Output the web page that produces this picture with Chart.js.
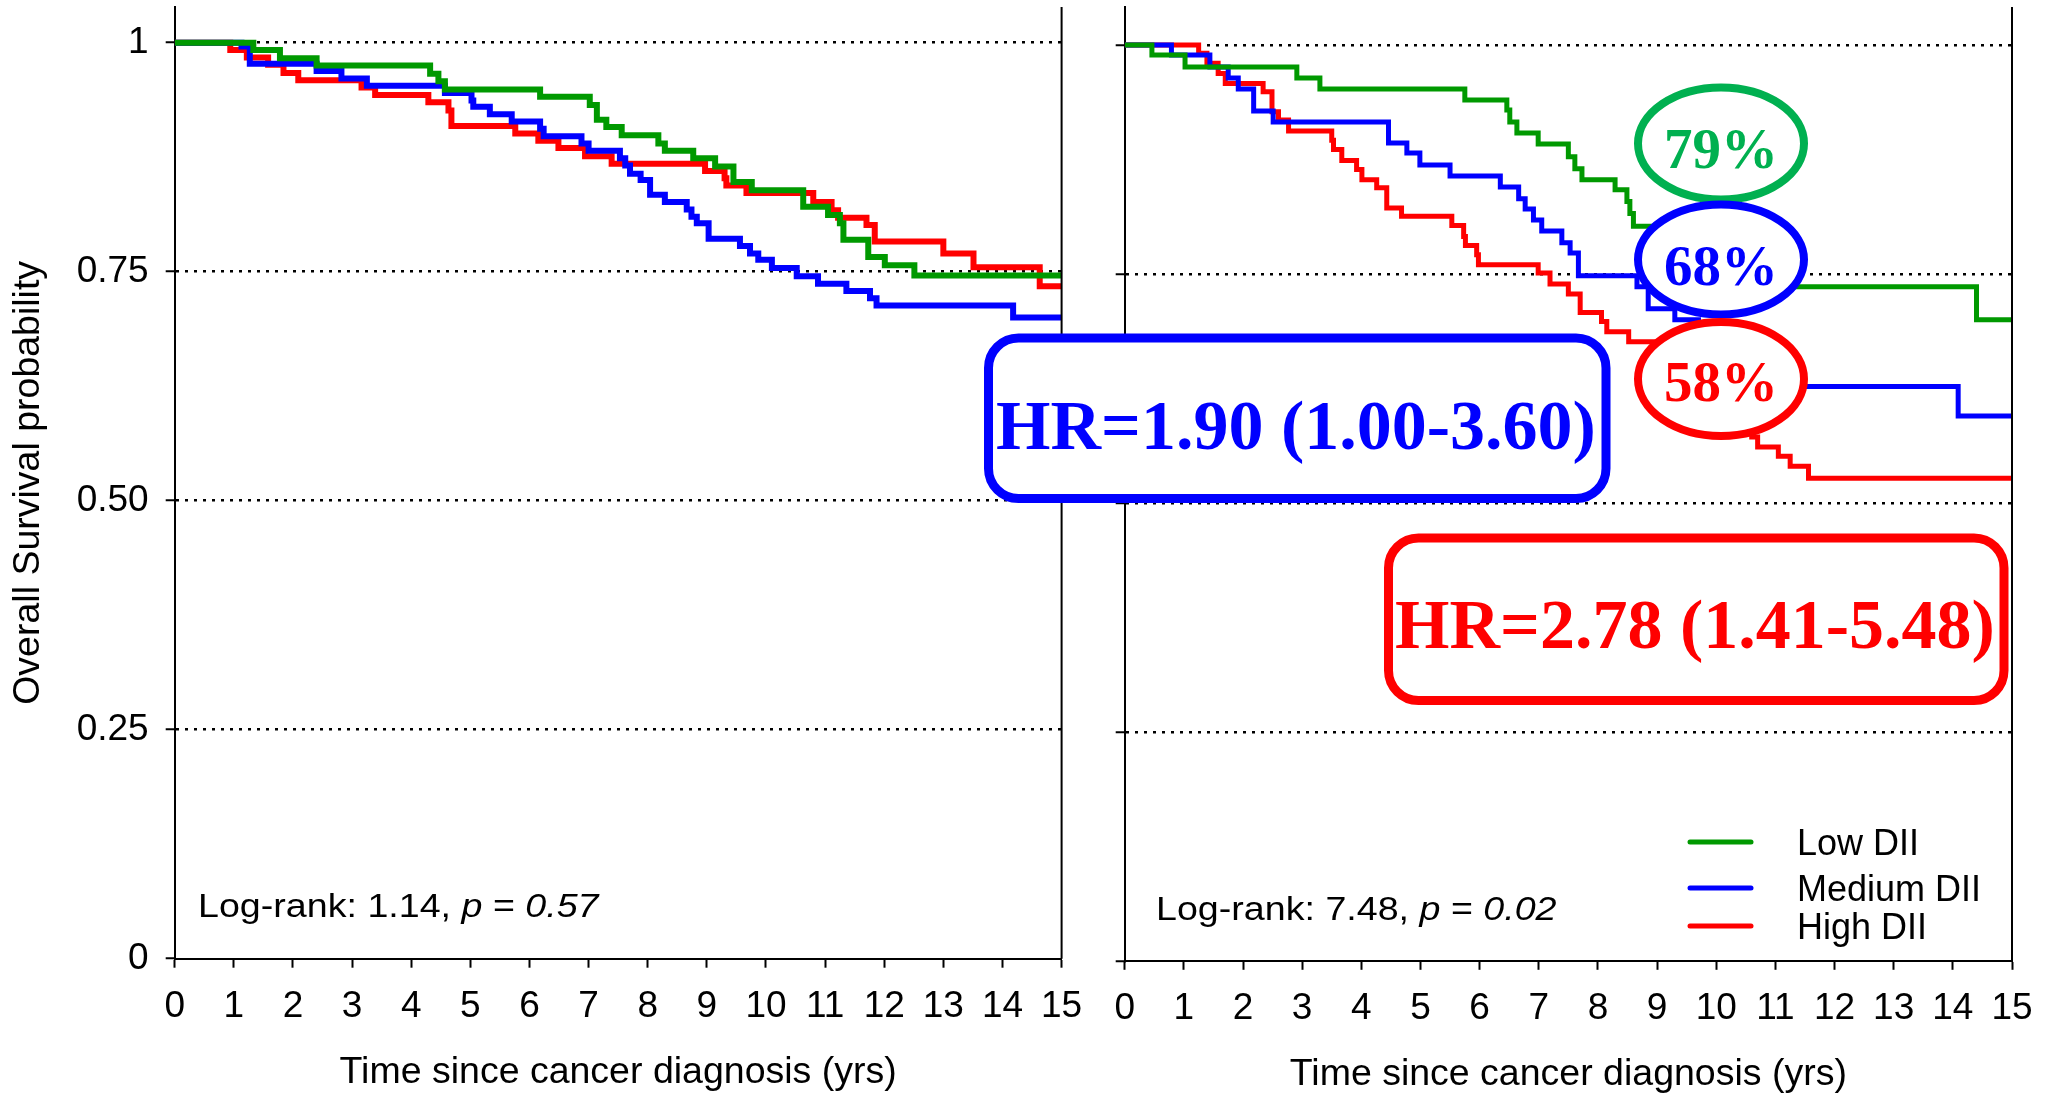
<!DOCTYPE html>
<html>
<head>
	<meta charset="utf-8"/>
	<title>Overall survival by DII</title>
	<script src="https://cdn.jsdelivr.net/npm/chart.js@4.4.1/dist/chart.umd.min.js"></script>
	<style>
		html, body { margin: 0; padding: 0; background: #fff; }
		#wrap { position: relative; width: 2055px; height: 1097px; }
		#wrap canvas { position: absolute; left: 0; top: 0; }
	</style>
</head>
<body>
<div id="wrap">
	<canvas id="km_left" width="2055" height="1097"></canvas>
	<canvas id="km_right" width="2055" height="1097"></canvas>
</div>
<script>
// axis ticks
const yearTicks = [0, 1, 2, 3, 4, 5, 6, 7, 8, 9, 10, 11, 12, 13, 14, 15];
const survTicks = [0, 0.25, 0.5, 0.75, 1];
const survTickLabels = ['0', '0.25', '0.50', '0.75', '1'];
const groupNames = ['Low DII', 'Medium DII', 'High DII'];
const groupColors = ['#009900', '#0000ff', '#ff0000'];

// left panel (KM step points: time in years, survival after the step)
const leftLowTime = [0, 1.33, 1.78, 2.40, 4.32, 4.46, 4.57, 6.18, 7.02, 7.14, 7.30, 7.56, 8.18, 8.29, 8.77, 9.14, 9.45, 9.76, 10.63, 11.05, 11.25, 11.31, 11.73, 12.01, 12.51, 15];
const leftLowSurv = [1, 0.992, 0.983, 0.975, 0.966, 0.958, 0.949, 0.941, 0.932, 0.916, 0.908, 0.899, 0.890, 0.882, 0.874, 0.865, 0.848, 0.839, 0.821, 0.812, 0.803, 0.785, 0.766, 0.757, 0.746, 0.746];
const leftMedTime = [0, 1.13, 1.27, 2.40, 2.82, 3.25, 4.57, 5.02, 5.05, 5.33, 5.70, 6.18, 6.24, 6.88, 7.00, 7.53, 7.62, 7.70, 7.88, 8.04, 8.29, 8.66, 8.74, 8.83, 9.03, 9.56, 9.73, 9.87, 10.10, 10.52, 10.88, 11.36, 11.76, 11.87, 14.18, 15];
const leftMedSurv = [1, 0.996, 0.977, 0.969, 0.961, 0.953, 0.945, 0.937, 0.930, 0.922, 0.914, 0.906, 0.898, 0.890, 0.882, 0.874, 0.866, 0.857, 0.850, 0.834, 0.826, 0.818, 0.810, 0.803, 0.786, 0.778, 0.770, 0.763, 0.754, 0.745, 0.737, 0.729, 0.721, 0.713, 0.700, 0.700];
const leftHighTime = [0, 0.94, 1.22, 1.58, 1.84, 2.09, 3.16, 3.39, 4.29, 4.63, 4.68, 5.76, 6.15, 6.49, 6.94, 7.39, 8.97, 9.30, 9.33, 9.67, 10.80, 11.11, 11.22, 11.70, 11.84, 13.00, 13.51, 14.63, 15];
const leftHighSurv = [1, 0.992, 0.984, 0.976, 0.967, 0.959, 0.951, 0.943, 0.935, 0.926, 0.909, 0.901, 0.893, 0.885, 0.876, 0.868, 0.860, 0.852, 0.844, 0.836, 0.826, 0.817, 0.809, 0.801, 0.783, 0.770, 0.755, 0.734, 0.734];

// right panel
const rightLowTime = [0, 0.46, 1.02, 2.91, 3.30, 5.75, 6.46, 6.51, 6.63, 6.99, 7.50, 7.61, 7.73, 8.29, 8.49, 8.54, 8.60, 9.0, 9.5, 10.0, 10.5, 11.0, 14.40, 15];
const rightLowSurv = [1, 0.989, 0.976, 0.964, 0.952, 0.940, 0.929, 0.916, 0.904, 0.892, 0.878, 0.865, 0.853, 0.842, 0.829, 0.816, 0.802, 0.790, 0.778, 0.765, 0.750, 0.736, 0.700, 0.700];
const rightMedTime = [0, 0.79, 1.44, 1.75, 1.92, 2.18, 2.51, 4.46, 4.77, 4.99, 5.50, 6.35, 6.66, 6.77, 6.91, 7.05, 7.39, 7.53, 7.67, 8.66, 8.85, 9.30, 9.7, 10.2, 10.7, 11.2, 14.09, 15];
const rightMedSurv = [1, 0.989, 0.976, 0.964, 0.952, 0.928, 0.916, 0.893, 0.882, 0.869, 0.857, 0.845, 0.832, 0.821, 0.809, 0.797, 0.784, 0.773, 0.748, 0.736, 0.712, 0.700, 0.685, 0.668, 0.650, 0.627, 0.595, 0.595];
const rightHighTime = [0, 1.25, 1.39, 1.58, 1.70, 2.34, 2.49, 2.60, 2.77, 3.50, 3.53, 3.67, 3.92, 4.01, 4.26, 4.43, 4.68, 5.53, 5.73, 5.76, 5.95, 5.98, 6.99, 7.19, 7.50, 7.70, 8.06, 8.15, 8.52, 9.2, 9.5, 9.8, 10.1, 10.4, 10.60, 10.70, 11.05, 11.25, 11.56, 15];
const rightHighSurv = [1, 0.991, 0.980, 0.969, 0.958, 0.949, 0.927, 0.918, 0.906, 0.896, 0.886, 0.874, 0.864, 0.853, 0.844, 0.822, 0.813, 0.803, 0.791, 0.781, 0.771, 0.760, 0.751, 0.739, 0.728, 0.708, 0.698, 0.687, 0.676, 0.660, 0.640, 0.620, 0.600, 0.585, 0.572, 0.561, 0.551, 0.540, 0.527, 0.527];

// texts
const xTitle = 'Time since cancer diagnosis (yrs)';
const yTitle = 'Overall Survival probability';
const logRankLeft = ['Log-rank: 1.14, ', 'p', ' = ', '0.57'];
const logRankRight = ['Log-rank: 7.48, ', 'p', ' = ', '0.02'];
const pctLabels = ['79%', '68%', '58%'];
const pctColors = ['#00b050', '#0000ff', '#ff0000'];
const hrLabels = ['HR=1.90 (1.00-3.60)', 'HR=2.78 (1.41-5.48)'];
const hrColors = ['#0000ff', '#ff0000'];

const SANS = '"Liberation Sans", Arial, sans-serif';
const SERIF = '"Liberation Serif", "Times New Roman", serif';

function steps(times, surv)
{
	return times.map((t, i) => ({x: t, y: surv[i]}));
}

function drawRuns(ctx, runs, x, y, size, sx)
{
	ctx.save();
	ctx.translate(x, y);
	ctx.scale(sx, 1);
	ctx.fillStyle = '#000';
	ctx.textBaseline = 'alphabetic';
	ctx.textAlign = 'left';
	let cx = 0;
	runs.forEach((txt, i) =>
	{
		ctx.font = (i % 2 === 1 ? 'italic ' : '') + size + 'px ' + SANS;	// p and value in italics
		ctx.fillText(txt, cx, 0);
		cx += ctx.measureText(txt).width;
	});
	ctx.restore();
}

function roundBox(ctx, x1, y1, x2, y2, r)
{
	ctx.beginPath();
	ctx.moveTo(x1 + r, y1);
	ctx.lineTo(x2 - r, y1);
	ctx.arcTo(x2, y1, x2, y1 + r, r);
	ctx.lineTo(x2, y2 - r);
	ctx.arcTo(x2, y2, x2 - r, y2, r);
	ctx.lineTo(x1 + r, y2);
	ctx.arcTo(x1, y2, x1, y2 - r, r);
	ctx.lineTo(x1, y1 + r);
	ctx.arcTo(x1, y1, x1 + r, y1, r);
	ctx.closePath();
}

const decor = {
	id: 'decor',
	afterDraw(chart, args, opts)
	{
		const ctx = chart.ctx;
		const a = chart.chartArea;
		ctx.save();
		// right frame line of the panel
		ctx.strokeStyle = '#000';
		ctx.lineWidth = 2;
		ctx.beginPath();
		ctx.moveTo(a.right, a.top);
		ctx.lineTo(a.right, a.bottom);
		ctx.stroke();

		drawRuns(ctx, opts.logRank, opts.logRankX, opts.logRankY, 33, 1.14);

		if (opts.legend)
		{
			const ys = [855, 901, 939];
			chart.data.datasets.forEach((ds, i) =>
			{
				ctx.strokeStyle = ds.borderColor;
				ctx.lineWidth = 5;
				ctx.lineCap = 'round';
				ctx.beginPath();
				ctx.moveTo(1690, ys[i] - 13);
				ctx.lineTo(1751, ys[i] - 13);
				ctx.stroke();
				ctx.fillStyle = '#000';
				ctx.font = '36px ' + SANS;
				ctx.textAlign = 'left';
				ctx.textBaseline = 'alphabetic';
				ctx.fillText(ds.label, 1797, ys[i]);
			});
		}

		if (opts.notes)
		{
			// percentage ellipses
			const ecy = [143.5, 259.5, 379];
			const eby = [167.5, 284.5, 401];
			const ery = [56, 55, 57];
			pctLabels.forEach((p, i) =>
			{
				ctx.beginPath();
				ctx.ellipse(1721, ecy[i], 83, ery[i], 0, 0, Math.PI * 2);
				ctx.fillStyle = '#fff';
				ctx.fill();
				ctx.lineWidth = 8;
				ctx.strokeStyle = pctColors[i];
				ctx.stroke();
				ctx.fillStyle = pctColors[i];
				ctx.font = 'bold 57px ' + SERIF;
				ctx.textAlign = 'center';
				ctx.textBaseline = 'alphabetic';
				ctx.fillText(p, 1721, eby[i]);
			});
			// hazard ratio boxes
			const boxes = [[988.5, 338, 1606, 498.5, 1296, 449], [1388.5, 538, 2004, 700.5, 1695, 648]];
			hrLabels.forEach((h, i) =>
			{
				const b = boxes[i];
				roundBox(ctx, b[0], b[1], b[2], b[3], 30);
				ctx.fillStyle = '#fff';
				ctx.fill();
				ctx.lineWidth = 9;
				ctx.strokeStyle = hrColors[i];
				ctx.stroke();
				ctx.fillStyle = hrColors[i];
				ctx.font = 'bold 70px ' + SERIF;
				ctx.textAlign = 'center';
				ctx.textBaseline = 'alphabetic';
				ctx.fillText(h, b[4], b[5]);
			});
		}
		ctx.restore();
	}
};

function makePanel(id, sets, p)
{
	const ctx = document.getElementById(id).getContext('2d');
	const datasets = sets.map((s, i) => (
	{
		label: groupNames[i],
		data: steps(s[0], s[1]),
		borderColor: groupColors[i],
		borderWidth: p.lineWidth,
		stepped: true,
		pointRadius: 0,
		fill: false
	}));

	return new Chart(ctx,
	{
		type: 'line',
		data: { datasets: datasets },
		options:
		{
			responsive: false,
			animation: false,
			layout: { padding: p.padding },
			plugins:
			{
				legend: { display: false },
				tooltip: { enabled: false },
				decor: p.decor
			},
			scales:
			{
				x:
				{
					type: 'linear',
					min: 0,
					max: 15,
					afterBuildTicks: (scale) => { scale.ticks = yearTicks.map(v => ({value: v})); },
					afterFit: (scale) =>
					{
						scale.height = p.xHeight;
						scale.paddingLeft = 0; scale.paddingRight = 0;
					},
					ticks: { color: '#000', font: { family: SANS, size: 37 }, padding: 17, maxRotation: 0, autoSkip: false },
					grid: { drawOnChartArea: false, drawTicks: true, tickLength: 9, tickWidth: 2, tickColor: '#000' },
					border: { display: true, color: '#000', width: 2 },
					title: { display: true, text: xTitle, color: '#000', font: { family: SANS, size: 37.5 }, padding: { top: 0, bottom: p.xTitlePad } }
				},
				y:
				{
					type: 'linear',
					min: 0,
					max: p.yMax,
					afterBuildTicks: (scale) => { scale.ticks = survTicks.map(v => ({value: v})); },
					afterFit: (scale) =>
					{
						scale.width = p.yWidth;
						scale.paddingTop = 0; scale.paddingBottom = 0;
					},
					ticks:
					{
						display: p.yLabels,
						color: '#000',
						font: { family: SANS, size: 37 },
						padding: 17,
						callback: (v) => survTickLabels[survTicks.indexOf(v)]
					},
					grid:
					{
						drawOnChartArea: true,
						drawTicks: true,
						tickLength: 9,
						tickWidth: 2,
						tickColor: '#000',
						lineWidth: 2.5,
						color: (c) => (c.tick && c.tick.value === 0) ? 'rgba(0,0,0,0)' : '#000'
					},
					border: { display: true, color: '#000', width: 2, dash: [3, 6] },
					title: { display: p.yLabels, text: yTitle, color: '#000', font: { family: SANS, size: 37.5 }, padding: { top: 6, bottom: 0 } }
				}
			}
		},
		plugins: [decor]
	});
}

makePanel('km_left',
	[[leftLowTime, leftLowSurv], [leftMedTime, leftMedSurv], [leftHighTime, leftHighSurv]],
	{
		padding: { left: 0, right: 993.4, top: 7, bottom: 0 },
		yWidth: 174.7,
		xHeight: 138.3,
		yMax: 1.039,
		lineWidth: 6,
		yLabels: true,
		xTitlePad: 2,
		decor: { logRank: logRankLeft, logRankX: 198, logRankY: 917, legend: false, notes: false }
	});

makePanel('km_right',
	[[rightLowTime, rightLowSurv], [rightMedTime, rightMedSurv], [rightHighTime, rightHighSurv]],
	{
		padding: { left: 1090, right: 43, top: 7, bottom: 0 },
		yWidth: 34.7,
		xHeight: 136.2,
		yMax: 1.0415,
		lineWidth: 5,
		yLabels: false,
		xTitlePad: 0,
		decor: { logRank: logRankRight, logRankX: 1156, logRankY: 920, legend: true, notes: true }
	});
</script>
</body>
</html>
